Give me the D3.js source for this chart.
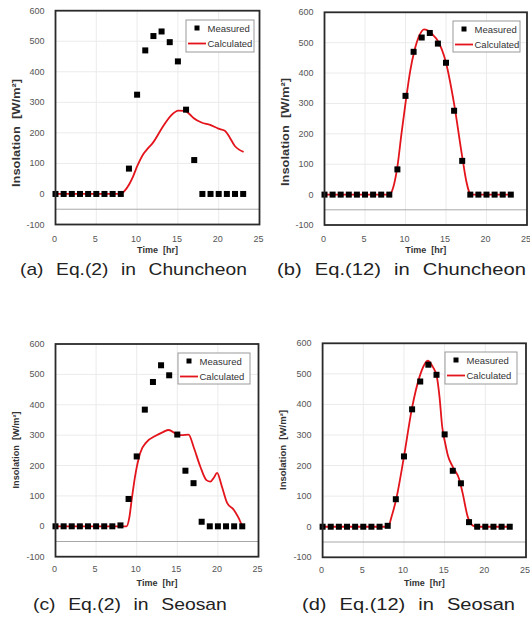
<!DOCTYPE html>
<html><head><meta charset="utf-8">
<script src="https://cdn.jsdelivr.net/npm/d3@7"></script>
<style>body{margin:0;background:#fff} svg{display:block}</style>
</head><body><svg id="c" width="530" height="626"></svg>
<script>
// ---------- data ----------
const hours = [0,1,2,3,4,5,6,7,8,9,10,11,12,13,14,15,16,17,18,19,20,21,22,23];
const measuredChuncheon = [0,0,0,0,0,0,0,0,0,83,325,470,517,532,497,434,276,111,0,0,0,0,0,0];
const measuredSeosan    = [0,0,0,0,0,0,0,0,3,90,230,384,475,530,497,302,183,142,15,0,0,0,0,0];

const calcA_t = [0,7.8,8.4,9.0,9.5,10.0,10.75,11.35,11.95,13.15,14.2,15.05,15.85,16.4,16.95,17.9,18.95,19.95,20.75,21.35,21.95,22.45,23.05];
const calcA_v = [0,0,8,30,57,90,130,150,168,220,258,273,272,262,248,234,226,214,207,185,158,146,138];

const calcB_t = [0,8.0,8.5,9.0,9.5,10.05,10.6,11.07,11.7,12.3,12.9,13.4,13.94,14.97,15.99,17.0,17.5,17.84,18.0,23.0];
const calcB_v = [0,0,25,92,200,311,410,470,523,544,538,525,508,437,300,125,45,10,0,0];

const calcC_t = [0,8.75,9.1,9.38,9.79,10.41,11.24,12.27,13.3,13.92,14.96,15.5,16.4,17.0,17.84,18.59,19.08,19.5,19.9,20.5,21.15,21.97,22.5,23.0];
const calcC_v = [0,0,30,87,163,240,278,297,311,317,303,300,302,262,196,152,147,160,176,130,76,54,30,0];

const calcD_t = [0,8.04,8.5,9.07,10.0,10.98,11.92,12.5,12.94,13.55,14.04,14.37,14.7,15.07,15.39,16.0,16.82,17.22,17.83,18.45,18.86,23.0];
const calcD_v = [0,0,35,93,229,387,491,530,543,523,491,425,327,273,234,196,153,109,33,4,0,0];

const xTicks = [0,5,10,15,20,25];
const yTicks = [-100,0,100,200,300,400,500,600];
const gridX = [5,10,15,20];
const gridY = [100,200,300,400,500];
const axisLine = -50;
const legendLabels = ["Measured","Calculated"];
const xTitle = "Time  [hr]";
const yTitle = "Insolation  [W/m\u00b2]";
const captions = ["(a) Eq.(2) in Chuncheon","(b) Eq.(12) in Chuncheon","(c) Eq.(2) in Seosan","(d) Eq.(12) in Seosan"];

// ---------- layout ----------
const panels = [
  {xr:[55.5,259.5], yr:[224.5,10.7], meas:measuredChuncheon, ct:calcA_t, cv:calcA_v,
   leg:{x:186,y:20,w:68,h:32}, ylab:{x:16,y:133,len:108,fs:11}, tickOff:17, titleOff:28,
   cap:{x0:20,x1:247,y:275}},
  {xr:[324.5,527], yr:[225,12.3], meas:measuredChuncheon, ct:calcB_t, cv:calcB_v,
   leg:{x:453,y:21,w:67,h:31}, ylab:{x:285,y:132,len:108,fs:11}, tickOff:17, titleOff:28,
   cap:{x0:277,x1:526,y:275}},
  {xr:[55.5,258.5], yr:[556.7,344], meas:measuredSeosan, ct:calcC_t, cv:calcC_v,
   leg:{x:178,y:353,w:72,h:31}, ylab:{x:16,y:450,len:77,fs:8.5}, tickOff:15.5, titleOff:29,
   cap:{x0:33,x1:227,y:610}},
  {xr:[322.6,526], yr:[557.3,343.3], meas:measuredSeosan, ct:calcD_t, cv:calcD_v,
   leg:{x:445,y:352,w:72,h:32}, ylab:{x:283,y:450,len:80,fs:8.5}, tickOff:15.5, titleOff:29,
   cap:{x0:302,x1:515,y:610}}
];

const svg = d3.select("#c");
const RED = "#e3141b";
const FONT = "'Liberation Sans', Arial, sans-serif";

panels.forEach((p, i) => {
  const x = d3.scaleLinear().domain([0,25]).range(p.xr);
  const y = d3.scaleLinear().domain([-100,600]).range(p.yr);
  const g = svg.append("g");

  // grid
  g.selectAll(".gx").data(gridX).enter().append("line")
    .attr("x1", d=>x(d)).attr("x2", d=>x(d)).attr("y1", y(600)).attr("y2", y(-100))
    .attr("stroke","#ebebeb").attr("stroke-width",1);
  g.selectAll(".gy").data(gridY).enter().append("line")
    .attr("x1", x(0)).attr("x2", x(25)).attr("y1", d=>y(d)).attr("y2", d=>y(d))
    .attr("stroke","#ebebeb").attr("stroke-width",1);
  // horizontal axis line at -50
  g.append("line").attr("x1", x(0)).attr("x2", x(25)).attr("y1", y(axisLine)).attr("y2", y(axisLine))
    .attr("stroke","#a8a8a8").attr("stroke-width",1);

  // calculated line
  const pts = p.ct.map((t,k)=>[t,p.cv[k]]);
  g.append("path").datum(pts)
    .attr("d", d3.line().x(d=>x(d[0])).y(d=>y(d[1])).curve(d3.curveMonotoneX))
    .attr("fill","none").attr("stroke",RED).attr("stroke-width",1.8);

  // measured squares
  const s = 6;
  g.selectAll(".m").data(hours.map((h,k)=>[h,p.meas[k]])).enter().append("rect")
    .attr("x", d=>x(d[0])-s/2).attr("y", d=>y(d[1])-s/2).attr("width",s).attr("height",s)
    .attr("fill","#000");

  // frame
  g.append("rect").attr("x", x(0)).attr("y", y(600))
    .attr("width", x(25)-x(0)).attr("height", y(-100)-y(600))
    .attr("fill","none").attr("stroke","#2a2a2a").attr("stroke-width",1.8);

  // tick labels
  g.selectAll(".xt").data(xTicks).enter().append("text")
    .attr("x", d=>x(d)-1).attr("y", y(-100)+p.tickOff)
    .attr("text-anchor","middle").attr("font-family",FONT).attr("font-size",9)
    .attr("fill","#555").text(d=>d);
  g.selectAll(".yt").data(yTicks).enter().append("text")
    .attr("x", x(0)-11).attr("y", d=>y(d)+3)
    .attr("text-anchor","end").attr("font-family",FONT).attr("font-size",9)
    .attr("fill","#555").text(d=>d);

  // axis titles
  g.append("text").attr("x",(x(0)+x(25))/2).attr("y", y(-100)+p.titleOff)
    .attr("text-anchor","middle").attr("font-family",FONT).attr("font-size",9)
    .attr("font-weight","bold").attr("fill","#333").style("white-space","pre").text(xTitle);
  g.append("text").attr("transform",`translate(${p.ylab.x},${p.ylab.y}) rotate(-90)`)
    .attr("text-anchor","middle").attr("dy","0.35em").attr("font-family",FONT)
    .attr("font-size",p.ylab.fs).attr("font-weight","bold").attr("fill","#333")
    .attr("textLength",p.ylab.len).attr("lengthAdjust","spacingAndGlyphs")
    .style("white-space","pre").text(yTitle);

  // legend
  const L = p.leg;
  const lg = g.append("g");
  lg.append("rect").attr("x",L.x).attr("y",L.y).attr("width",L.w).attr("height",L.h)
    .attr("fill","#fff").attr("stroke","#9a9a9a").attr("stroke-width",1);
  lg.append("rect").attr("x",L.x+11-2.5).attr("y",L.y+8-2.5).attr("width",5).attr("height",5).attr("fill","#000");
  lg.append("line").attr("x1",L.x+2).attr("x2",L.x+20).attr("y1",L.y+23.5).attr("y2",L.y+23.5)
    .attr("stroke",RED).attr("stroke-width",1.8);
  lg.selectAll(".lt").data(legendLabels).enter().append("text")
    .attr("x",L.x+21.5).attr("y",(d,k)=>L.y+11.5+k*15.5)
    .attr("font-family",FONT).attr("font-size",9.5).attr("fill","#333").text(d=>d);

  // caption
  const cap = svg.append("text").attr("x",0).attr("y",0)
    .attr("font-family",FONT).attr("font-size",16).attr("fill","#222")
    .style("word-spacing","6px").text(captions[i]);
  const w = cap.node().getComputedTextLength();
  const sc = (p.cap.x1 - p.cap.x0) / w;
  cap.attr("transform",`translate(${p.cap.x0},${p.cap.y}) scale(${sc},1)`);
});
</script>
</body></html>
